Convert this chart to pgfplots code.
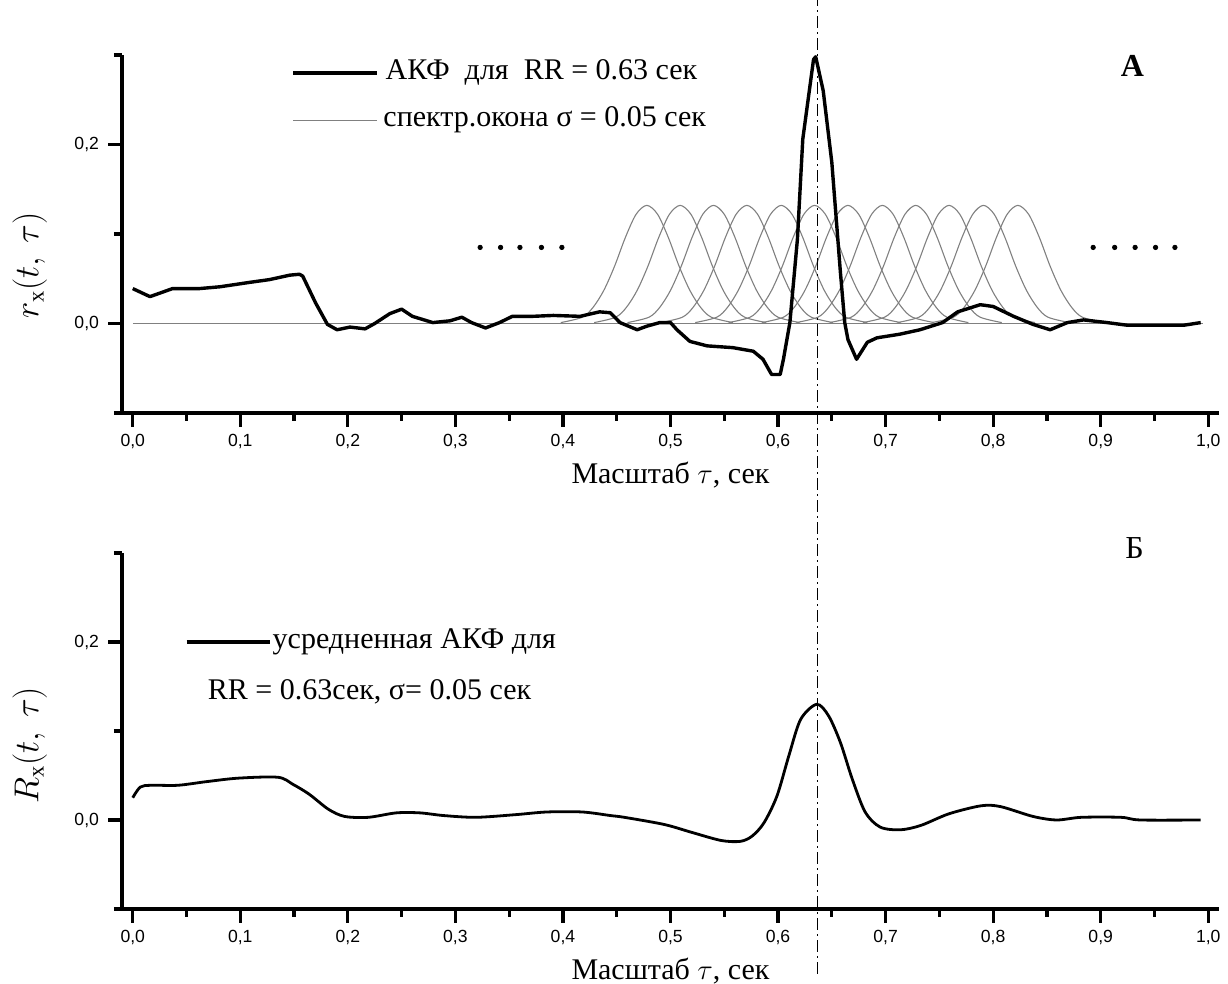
\documentclass[border=0pt]{standalone}
\usepackage{fontspec}
\setmainfont{Liberation Serif}
\newfontfamily\ticksf{Liberation Sans}
\usepackage{pgfplots}
\usepackage{pgfplotstable}
\pgfplotsset{compat=1.18}

\pgfplotstableread{
x y
0.000 0.039
0.016 0.030
0.037 0.039
0.062 0.039
0.081 0.041
0.109 0.046
0.127 0.049
0.146 0.054
0.155 0.055
0.158 0.053
0.170 0.023
0.181 -0.001
0.190 -0.007
0.202 -0.004
0.216 -0.006
0.225 0.000
0.239 0.011
0.250 0.016
0.260 0.008
0.279 0.001
0.295 0.003
0.306 0.007
0.315 0.001
0.328 -0.005
0.341 0.001
0.353 0.008
0.372 0.008
0.391 0.009
0.416 0.008
0.434 0.013
0.444 0.012
0.453 0.001
0.469 -0.007
0.478 -0.003
0.490 0.001
0.500 0.001
0.506 -0.007
0.518 -0.020
0.534 -0.025
0.558 -0.027
0.577 -0.031
0.586 -0.040
0.594 -0.057
0.602 -0.057
0.605 -0.040
0.611 0.001
0.618 0.094
0.623 0.206
0.633 0.295
0.635 0.298
0.642 0.260
0.650 0.180
0.658 0.057
0.662 0.001
0.665 -0.018
0.673 -0.040
0.683 -0.021
0.692 -0.016
0.713 -0.012
0.732 -0.007
0.753 0.001
0.767 0.013
0.788 0.021
0.800 0.019
0.819 0.008
0.837 -0.001
0.853 -0.007
0.869 0.001
0.884 0.004
0.906 0.001
0.925 -0.002
0.977 -0.002
0.993 0.001
}\acf

\pgfplotstableread{
y x1 x2 x3 x4 x5 x6 x7 x8 x9 x10 x11 x12
0.001 0.398 0.429 0.460 0.491 0.523 0.554 0.585 0.617 0.648 0.679 0.711 0.743
0.007 0.418 0.449 0.480 0.511 0.543 0.574 0.605 0.637 0.668 0.699 0.731 0.763
0.018 0.428 0.459 0.490 0.521 0.553 0.584 0.615 0.647 0.678 0.709 0.741 0.773
0.037 0.438 0.469 0.500 0.531 0.563 0.594 0.625 0.657 0.688 0.719 0.751 0.783
0.064 0.448 0.479 0.510 0.541 0.573 0.604 0.635 0.667 0.698 0.729 0.761 0.793
0.096 0.458 0.489 0.520 0.551 0.583 0.614 0.645 0.677 0.708 0.739 0.771 0.803
0.122 0.468 0.499 0.530 0.561 0.593 0.624 0.655 0.687 0.718 0.749 0.781 0.813
0.132 0.478 0.509 0.540 0.571 0.603 0.634 0.665 0.697 0.728 0.759 0.791 0.823
0.122 0.488 0.519 0.550 0.581 0.613 0.644 0.675 0.707 0.738 0.769 0.801 0.833
0.096 0.498 0.529 0.560 0.591 0.623 0.654 0.685 0.717 0.748 0.779 0.811 0.843
0.064 0.508 0.539 0.570 0.601 0.633 0.664 0.695 0.727 0.758 0.789 0.821 0.853
0.037 0.518 0.549 0.580 0.611 0.643 0.674 0.705 0.737 0.768 0.799 0.831 0.863
0.018 0.528 0.559 0.590 0.621 0.653 0.684 0.715 0.747 0.778 0.809 0.841 0.873
0.007 0.538 0.569 0.600 0.631 0.663 0.694 0.725 0.757 0.788 0.819 0.851 0.883
0.001 0.558 0.589 0.620 0.651 0.683 0.714 0.745 0.777 0.808 0.839 0.871 0.903
}\bells

\pgfplotstableread{
x y
0.000 0.025
0.007 0.037
0.017 0.039
0.042 0.039
0.068 0.043
0.098 0.047
0.135 0.048
0.149 0.040
0.164 0.029
0.182 0.012
0.197 0.004
0.219 0.003
0.245 0.008
0.267 0.008
0.289 0.005
0.319 0.003
0.356 0.006
0.385 0.009
0.418 0.009
0.444 0.005
0.457 0.003
0.494 -0.005
0.520 -0.014
0.547 -0.023
0.565 -0.024
0.576 -0.018
0.587 -0.003
0.599 0.027
0.610 0.072
0.621 0.113
0.636 0.130
0.647 0.117
0.658 0.087
0.669 0.046
0.681 0.009
0.695 -0.008
0.714 -0.011
0.733 -0.006
0.759 0.007
0.789 0.016
0.807 0.015
0.837 0.004
0.859 0.000
0.882 0.003
0.919 0.003
0.937 0.000
0.993 0.000
}\avg

\pgfplotsset{
  panel/.style={
    scale only axis, width=548.5pt,
    xmin=-0.01, xmax=1.01, ymin=-0.1, ymax=0.3,
    axis x line=bottom, axis y line=left,
    axis line style={-, line width=1.6pt},
    tick align=outside, major tick length=7pt, minor tick length=4pt,
    tick style={line width=1.6pt, black},
    xtick={0,0.1,0.2,0.3,0.4,0.5,0.6,0.7,0.8,0.9,1},
    minor xtick={0.05,0.15,0.25,0.35,0.45,0.55,0.65,0.75,0.85,0.95},
    ytick={0,0.2}, minor ytick={-0.1,0.1,0.3},
    ticklabel style={font=\ticksf\fontsize{8.8}{10}\selectfont},
    yticklabel style={xshift=-1pt},
    /pgf/number format/fixed, /pgf/number format/fixed zerofill,
    /pgf/number format/precision=1, /pgf/number format/use comma,
    /pgf/number format/assume math mode=true,
    xlabel={Масштаб $\tau$, сек},
    xlabel style={at={(axis description cs:0.5,0)}, anchor=center, yshift=-31pt,
      font=\fontsize{15}{17}\selectfont},
    ylabel style={anchor=center, font=\fontsize{16}{18}\selectfont},
    clip=false,
  },
  bell/.style={gray, line width=0.55pt, smooth, forget plot},
}

\begin{document}
\begin{tikzpicture}
\useasboundingbox (0,0) rectangle (614pt,492pt);

% Panel A
\begin{axis}[panel, height=179pt, at={(61pt,285.5pt)}, anchor=south west,
  ylabel={$r_{\mathrm{x}}(t,\ \tau)$},
  ylabel style={at={(axis description cs:-0.084,0.413)}}]
\addplot[gray, line width=0.6pt] coordinates {(0,0) (0.995,0)};
\pgfplotsinvokeforeach{1,...,12}{
  \addplot[bell] table[x=x#1, y=y] {\bells};
}
\addplot[black, line width=1.7pt, line join=round] table[x=x, y=y] {\acf};
\addplot[only marks, mark=*, mark size=1.1pt, black] coordinates
  {(0.323,0.085) (0.342,0.085) (0.360,0.085) (0.380,0.085) (0.399,0.085)
   (0.893,0.085) (0.913,0.085) (0.932,0.085) (0.951,0.085) (0.969,0.085)};
\draw[black, line width=1.7pt] (axis description cs:0.156,0.950) -- ++(42pt,0pt);
\node[anchor=west, inner sep=0pt, font=\fontsize{15}{17}\selectfont]
  at (axis description cs:0.240,0.950) {АКФ\ \ для\ \ RR = 0.63 сек};
\draw[gray, line width=0.6pt] (axis description cs:0.156,0.818) -- ++(42pt,0pt);
\node[anchor=west, inner sep=0pt, font=\fontsize{15}{17}\selectfont]
  at (axis description cs:0.238,0.818) {спектр.окона σ = 0.05 сек};
\node[font=\bfseries\fontsize{16}{18}\selectfont] at (axis description cs:0.921,0.97) {А};
\end{axis}

% Panel B
\begin{axis}[panel, height=178pt, at={(61pt,37.5pt)}, anchor=south west,
  ylabel={$R_{\mathrm{x}}(t,\ \tau)$},
  ylabel style={at={(axis description cs:-0.084,0.46)}}]
\addplot[black, line width=1.4pt, smooth] table[x=x, y=y] {\avg};
\draw[black, line width=0.5pt, dash pattern=on 6pt off 2pt on 1pt off 2pt]
  (axis cs:0.637,-0.173) -- (axis cs:0.637,0.922);
\draw[black, line width=1.6pt] (axis description cs:0.059,0.75) -- ++(41.5pt,0pt);
\node[anchor=west, inner sep=0pt, font=\fontsize{15}{17}\selectfont]
  at (axis description cs:0.137,0.75) {усредненная АКФ для};
\node[anchor=west, inner sep=0pt, font=\fontsize{15}{17}\selectfont]
  at (axis description cs:0.078,0.61) {RR = 0.63сек, σ= 0.05 сек};
\node[font=\fontsize{16}{18}\selectfont] at (axis description cs:0.923,1.014) {Б};
\end{axis}
\end{tikzpicture}
\end{document}
